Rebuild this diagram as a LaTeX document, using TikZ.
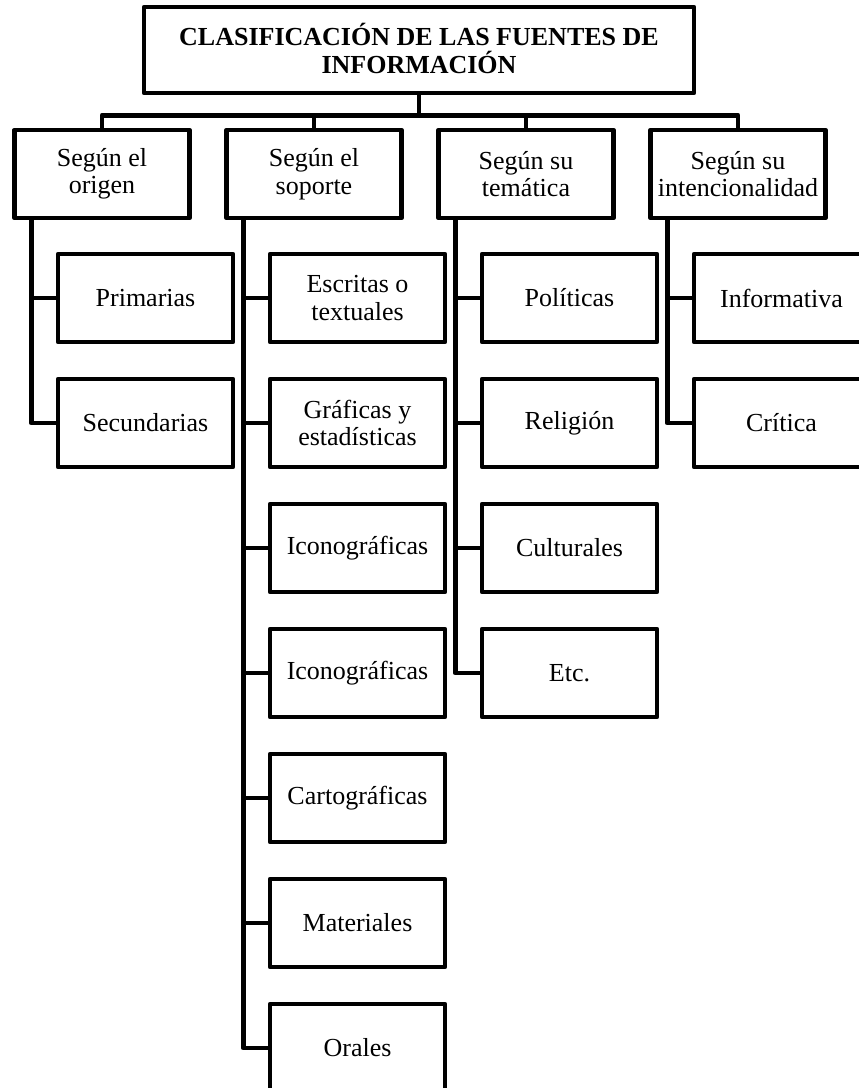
\documentclass[tikz,border=0pt]{standalone}
\usepackage{fontspec}
\setmainfont{Liberation Serif}

\begin{document}
\begin{tikzpicture}[x=1pt,y=-1pt,
	caja/.style={draw, line width=4.8pt, line join=round, fill=white, align=center, inner sep=2pt, minimum width=175pt, minimum height=88pt, font=\fontsize{26}{27.5}\selectfont},
	titulo/.style={caja, minimum width=550pt, minimum height=86pt, font=\fontsize{26}{27.5}\selectfont\bfseries},
	rama/.style={line width=4.8pt, line join=round}]
	\useasboundingbox (0,0) rectangle (859,1088);
	\clip (0,0) rectangle (859,1088);
	\node[titulo] (tit) at (419,50) {\raisebox{3pt}{CLASIFICACIÓN DE LAS FUENTES DE}\\\raisebox{3pt}{INFORMACIÓN}};
	\node[caja] (origen) at (102,174) {Según el\\origen};
	\node[caja] (soporte) at (314,174) {Según el\\soporte};
	\node[caja] (tematica) at (526,174) {Según su\\temática};
	\node[caja] (intencion) at (738,174) {Según su\\intencionalidad};
	\node[caja] (primarias) at (145.5,298) {Primarias};
	\node[caja] (secundarias) at (145.5,423) {Secundarias};
	\node[caja] (escritas) at (357.5,298) {Escritas o\\textuales};
	\node[caja] (graficas) at (357.5,423) {Gráficas y\\estadísticas};
	\node[caja] (icono1) at (357.5,548) {Iconográficas};
	\node[caja] (icono2) at (357.5,673) {Iconográficas};
	\node[caja] (carto) at (357.5,798) {Cartográficas};
	\node[caja] (materiales) at (357.5,923) {Materiales};
	\node[caja] (orales) at (357.5,1048) {Orales};
	\node[caja] (politicas) at (569.5,298) {Políticas};
	\node[caja] (religion) at (569.5,423) {Religión};
	\node[caja] (culturales) at (569.5,548) {Culturales};
	\node[caja] (etc) at (569.5,673) {Etc.};
	\node[caja] (informativa) at (781.5,298) {Informativa};
	\node[caja] (critica) at (781.5,423) {Crítica};
	\draw[rama] (tit.south) -- ++(0,20) -| (origen.north);
	\draw[rama] (tit.south) -- ++(0,20) -| (soporte.north);
	\draw[rama] (tit.south) -- ++(0,20) -| (tematica.north);
	\draw[rama] (tit.south) -- ++(0,20) -| (intencion.north);
	\draw[rama] ([xshift=19pt]origen.south west) |- (primarias.west);
	\draw[rama] ([xshift=19pt]origen.south west) |- (secundarias.west);
	\draw[rama] ([xshift=19pt]soporte.south west) |- (escritas.west);
	\draw[rama] ([xshift=19pt]soporte.south west) |- (graficas.west);
	\draw[rama] ([xshift=19pt]soporte.south west) |- (icono1.west);
	\draw[rama] ([xshift=19pt]soporte.south west) |- (icono2.west);
	\draw[rama] ([xshift=19pt]soporte.south west) |- (carto.west);
	\draw[rama] ([xshift=19pt]soporte.south west) |- (materiales.west);
	\draw[rama] ([xshift=19pt]soporte.south west) |- (orales.west);
	\draw[rama] ([xshift=19pt]tematica.south west) |- (politicas.west);
	\draw[rama] ([xshift=19pt]tematica.south west) |- (religion.west);
	\draw[rama] ([xshift=19pt]tematica.south west) |- (culturales.west);
	\draw[rama] ([xshift=19pt]tematica.south west) |- (etc.west);
	\draw[rama] ([xshift=19pt]intencion.south west) |- (informativa.west);
	\draw[rama] ([xshift=19pt]intencion.south west) |- (critica.west);
\end{tikzpicture}
\end{document}
